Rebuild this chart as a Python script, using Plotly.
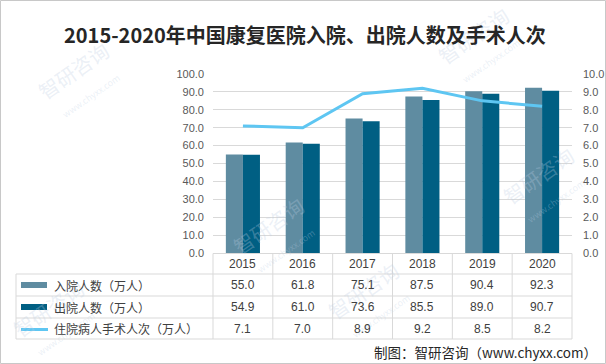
import plotly.graph_objects as go

years = ["2015", "2016", "2017", "2018", "2019", "2020"]
admissions = [55.0, 61.8, 75.1, 87.5, 90.4, 92.3]
discharges = [54.9, 61.0, 73.6, 85.5, 89.0, 90.7]
surgeries = [7.1, 7.0, 8.9, 9.2, 8.5, 8.2]
series_names = ["入院人数（万人）", "出院人数（万人）", "住院病人手术人次（万人）"]
title_text = "2015-2020年中国康复医院入院、出院人数及手术人次"
source_text = "制图：智研咨询（www.chyxx.com）"

W, H = 606, 364
L, R, T, B = 213, 34, 74, 111
PW, PH = W - L - R, H - T - B

def px(p):
    return (p - L) / PW

def py(p):
    return (H - B - p) / PH

c_light = "#5f8ca1"
c_dark = "#005f83"
c_line = "#5ec6f2"
grid = "#d9d9d9"
txt = "#595959"

fig = go.Figure()
fig.add_trace(go.Bar(x=years, y=admissions, name=series_names[0], marker_color=c_light,
                     marker_line_width=0, showlegend=False))
fig.add_trace(go.Bar(x=years, y=discharges, name=series_names[1], marker_color=c_dark,
                     marker_line_width=0, showlegend=False))
fig.add_trace(go.Scatter(x=years, y=surgeries, name=series_names[2], mode="lines",
                         line=dict(color=c_line, width=3), yaxis="y2", showlegend=False))

shapes = []
annotations = []

def ann(x, y, text, size, color, xanchor="center", family=None):
    f = dict(size=size, color=color)
    if family:
        f["family"] = family
    annotations.append(dict(x=px(x), y=py(y), xref="paper", yref="paper", text=text,
                            showarrow=False, xanchor=xanchor, yanchor="middle", font=f))

# faint watermarks (kept inside the canvas)
wm = [(80, 80), (275, 235), (480, 45), (545, 185), (370, 300), (55, 318)]
for (wx, wy) in wm:
    annotations.append(dict(x=px(wx), y=py(wy), xref="paper", yref="paper",
                            text="智研咨询<br><span style='font-size:9px'>www.chyxx.com</span>",
                            showarrow=False, textangle=-35, xanchor="center", yanchor="middle",
                            font=dict(size=20, color="rgba(190,205,225,0.30)", family="Noto Sans CJK SC")))

# table geometry (pixels)
row_lines = [274, 296, 318, 339]
header_top = 253.5
left_edge = 16
n = len(years)
colw = PW / n

shapes.append(dict(type="line", xref="paper", yref="paper", x0=px(L), x1=px(L + PW),
                   y0=py(header_top), y1=py(header_top), line=dict(color=grid, width=1)))
for r in row_lines:
    shapes.append(dict(type="line", xref="paper", yref="paper", x0=px(left_edge), x1=px(L + PW),
                       y0=py(r), y1=py(r), line=dict(color=grid, width=1)))
for k in range(n + 1):
    xp = L + k * colw
    shapes.append(dict(type="line", xref="paper", yref="paper", x0=px(xp), x1=px(xp),
                       y0=py(header_top), y1=py(row_lines[-1]), line=dict(color=grid, width=1)))
shapes.append(dict(type="line", xref="paper", yref="paper", x0=px(left_edge), x1=px(left_edge),
                   y0=py(row_lines[0]), y1=py(row_lines[-1]), line=dict(color=grid, width=1)))

for k, yr in enumerate(years):
    ann(L + (k + 0.5) * colw, (header_top + row_lines[0]) / 2, yr, 12, "#404040")

rows = [admissions, discharges, surgeries]
for i, vals in enumerate(rows):
    yc = (row_lines[i] + row_lines[i + 1]) / 2
    for k, v in enumerate(vals):
        ann(L + (k + 0.5) * colw, yc, f"{v:.1f}", 12, "#404040")
    ann(52, yc, series_names[i], 12, "#404040", xanchor="left", family="Noto Sans CJK SC")
    if i < 2:
        shapes.append(dict(type="rect", xref="paper", yref="paper", x0=px(21), x1=px(47),
                           y0=py(yc - 3), y1=py(yc + 3), fillcolor=[c_light, c_dark][i],
                           line=dict(width=0)))
    else:
        shapes.append(dict(type="line", xref="paper", yref="paper", x0=px(21), x1=px(48),
                           y0=py(yc + 1), y1=py(yc + 1), line=dict(color=c_line, width=3)))

shapes.append(dict(type="rect", xref="paper", yref="paper", x0=px(0.5), x1=px(W - 0.5),
                   y0=py(0.5), y1=py(H - 0.5), line=dict(color="#c8c8c8", width=1)))

ann(W / 2 + 2, 34, f"<b>{title_text}</b>", 20, "#262626", family="Noto Sans CJK SC")
ann(599, 352, source_text, 13.5, "#262626", xanchor="right", family="Noto Sans CJK SC")

fig.update_layout(
    width=W, height=H,
    margin=dict(l=L, r=R, t=T, b=B, autoexpand=False),
    paper_bgcolor="white", plot_bgcolor="white",
    barmode="group", bargap=0.43, bargroupgap=0,
    font=dict(family="Liberation Sans, Arial", size=11, color=txt),
    xaxis=dict(showticklabels=False, ticks="", showgrid=False, showline=False, zeroline=False,
               range=[-0.5, 5.5]),
    yaxis=dict(range=[0, 100], dtick=10, tickformat=".1f", showgrid=True, gridcolor=grid,
               gridwidth=1, zeroline=False, showline=False, ticks="", ticklabelstandoff=8,
               tickfont=dict(size=11, color=txt)),
    yaxis2=dict(range=[0, 10], dtick=1, tickformat=".1f", overlaying="y", side="right",
                showgrid=False, zeroline=False, showline=False, ticks="", ticklabelstandoff=10,
                tickfont=dict(size=11, color=txt)),
    shapes=shapes, annotations=annotations,
)

fig.write_html("out.html", config={"displayModeBar": False},
               post_script="document.body.style.margin='0';document.body.style.overflow='hidden';")
